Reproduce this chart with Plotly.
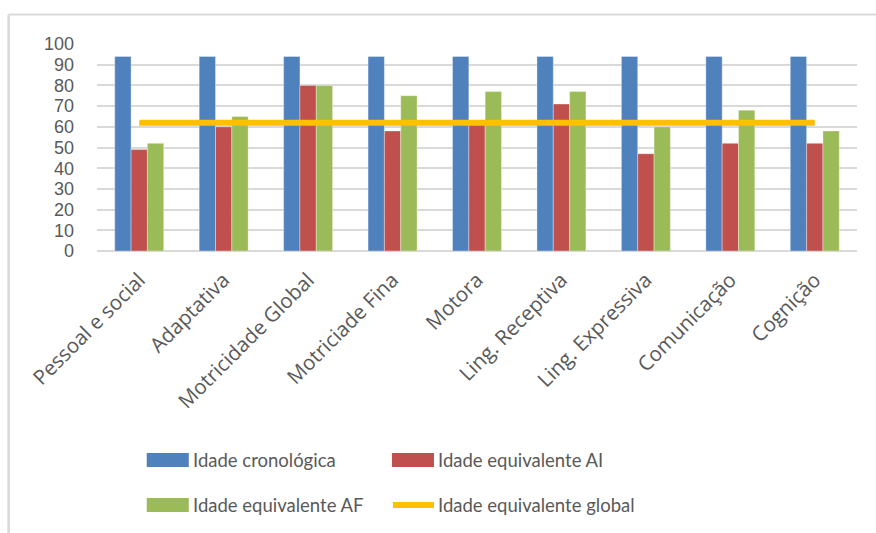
import plotly.graph_objects as go

# --- data -------------------------------------------------------------
categories = ["Pessoal e social", "Adaptativa", "Motricidade Global", "Motriciade Fina",
              "Motora", "Ling. Receptiva", "Ling. Expressiva", "Comunicação", "Cognição"]
idade_cronologica = [94, 94, 94, 94, 94, 94, 94, 94, 94]
idade_eq_ai = [49, 60, 80, 58, 61, 71, 47, 52, 52]
idade_eq_af = [52, 65, 80, 75, 77, 77, 60, 68, 58]
idade_eq_global = [62, 62, 62, 62, 62, 62, 62, 62, 62]
series_names = ["Idade cronológica", "Idade equivalente AI",
                "Idade equivalente AF", "Idade equivalente global"]
y_ticks = list(range(0, 101, 10))

# --- styling ----------------------------------------------------------
W, H = 876, 533
BLUE, RED, GREEN, GOLD = "#4F81BD", "#C0504D", "#9BBB59", "#FFC000"
GRID = "#D9D9D9"
TEXT = "#595959"

L, R, T, B = 97.3, 19.3, 43.5, 282.3
PW, PH = W - L - R, H - T - B


def px_x(x):
    return (x - L) / PW


def px_y(y):
    return (H - B - y) / PH


fig = go.Figure()
bar_edge = dict(width=1, color="rgba(255,255,255,0.35)")
for name, vals, col in zip(series_names[:3],
                           [idade_cronologica, idade_eq_ai, idade_eq_af],
                           [BLUE, RED, GREEN]):
    fig.add_trace(go.Bar(x=categories, y=vals, name=name, marker_color=col,
                         marker_line=bar_edge, showlegend=False))

fig.add_trace(go.Scatter(x=categories, y=idade_eq_global, name=series_names[3],
                         mode="lines", line=dict(color=GOLD, width=6),
                         showlegend=False))

# chart border (left and top edges visible)
shapes = [
    dict(type="line", xref="paper", yref="paper",
         x0=px_x(9), x1=px_x(W + 5), y0=px_y(14), y1=px_y(14),
         line=dict(color=GRID, width=2)),
    dict(type="line", xref="paper", yref="paper",
         x0=px_x(9), x1=px_x(9), y0=px_y(14), y1=px_y(H + 5),
         line=dict(color=GRID, width=2.5)),
]

# legend: two columns, two rows
legend_pos = [(147, 460), (392, 460), (147, 505), (392, 505)]
legend_cols = [BLUE, RED, GREEN, GOLD]
annotations = []
for i, (name, col, (lx, ly)) in enumerate(zip(series_names, legend_cols, legend_pos)):
    if i < 3:
        shapes.append(dict(type="rect", xref="paper", yref="paper",
                           x0=px_x(lx), x1=px_x(lx + 42),
                           y0=px_y(ly - 7), y1=px_y(ly + 7),
                           fillcolor=col, line=dict(width=0)))
    else:
        shapes.append(dict(type="line", xref="paper", yref="paper",
                           x0=px_x(lx + 1), x1=px_x(lx + 42),
                           y0=px_y(ly), y1=px_y(ly),
                           line=dict(color=col, width=6)))
    annotations.append(dict(text=name, xref="paper", yref="paper",
                            x=px_x(lx + 44), y=px_y(ly), xanchor="left",
                            yanchor="middle", showarrow=False,
                            font=dict(family="Lato, sans-serif", size=18.5, color=TEXT)))

fig.update_layout(
    width=W, height=H,
    margin=dict(l=L, r=R, t=T, b=B, autoexpand=False),
    paper_bgcolor="white", plot_bgcolor="white",
    barmode="group", bargap=0.42, bargroupgap=0,
    shapes=shapes, annotations=annotations,
    showlegend=False,
    font=dict(family="Open Sans, sans-serif", color=TEXT),
)
fig.update_yaxes(range=[0, 100], tickvals=y_ticks, showgrid=True,
                 gridcolor=GRID, gridwidth=2, zeroline=True, zerolinecolor=GRID,
                 zerolinewidth=2, showline=False, ticks="",
                 ticklabelstandoff=22,
                 tickfont=dict(family="Liberation Sans, Arial, sans-serif",
                               size=18, color=TEXT))
fig.update_xaxes(tickangle=-45, showgrid=False, showline=False, ticks="",
                 ticklabelstandoff=12, tickfont=dict(size=20.5, color=TEXT))

fig.write_html("out.html")
